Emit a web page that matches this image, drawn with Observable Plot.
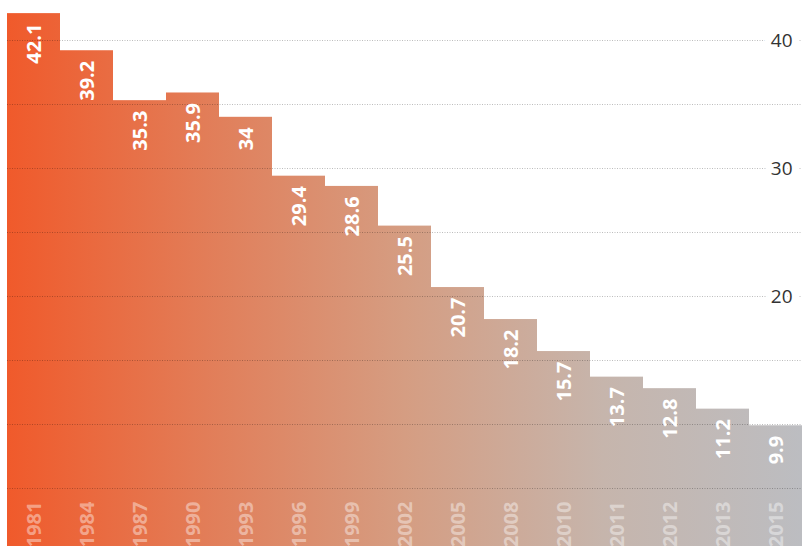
<!DOCTYPE html>
<html>
<head>
<meta charset="utf-8">
<script src="https://cdn.jsdelivr.net/npm/d3@7"></script>
<script src="https://cdn.jsdelivr.net/npm/@observablehq/plot@0.6"></script>
<style>
  html, body { margin: 0; padding: 0; background: #fff; }
  svg { display: block; }
</style>
</head>
<body>
<div id="chart"></div>
<script>
const years = ["1981","1984","1987","1990","1993","1996","1999","2002","2005","2008","2010","2011","2012","2013","2015"];
const values = [42.1, 39.2, 35.3, 35.9, 34, 29.4, 28.6, 25.5, 20.7, 18.2, 15.7, 13.7, 12.8, 11.2, 9.9];
const gridValues = [5, 10, 15, 20, 25, 30, 35, 40, 45];
const tickLabels = [20, 30, 40];
const gradientStops = [
  [0, "#f05a2b"], [0.25, "#e27d58"], [0.5, "#d59d82"], [0.75, "#c6b5ac"], [1, "#bcbdc1"]
];

const data = years.map((year, i) => ({year, value: values[i]}));

const W = 802, H = 546, mL = 7, mR = 0;

function gradientDefs() {
  const defs = d3.create("svg:defs");
  const g = defs.append("linearGradient")
    .attr("id", "barGrad")
    .attr("gradientUnits", "userSpaceOnUse")
    .attr("x1", mL).attr("x2", W - mR).attr("y1", 0).attr("y2", 0);
  for (const [o, c] of gradientStops) g.append("stop").attr("offset", o).attr("stop-color", c);
  return defs.node();
}

const font = "'Open Sans', 'DejaVu Sans', sans-serif";

const chart = Plot.plot({
  width: W,
  height: H,
  marginLeft: mL,
  marginRight: mR,
  marginTop: 0,
  marginBottom: 0,
  style: {fontFamily: font, background: "#fff", overflow: "hidden"},
  x: {type: "band", domain: years, padding: 0, axis: null},
  y: {domain: [0, 43.125], range: [552, 0], axis: null},
  marks: [
    gradientDefs,
    Plot.barY(data, {x: "year", y: "value", fill: "url(#barGrad)", inset: 0}),
    Plot.ruleY(gridValues, {stroke: "#000", strokeOpacity: 0.26, strokeDasharray: "1,1.5", strokeWidth: 1}),
    Plot.text(tickLabels, {
      y: d => d, text: d => String(d), frameAnchor: "right", dx: -10, textAnchor: "end",
      fill: "#333", stroke: "#fff", strokeWidth: 14, fontSize: 19, fontFamily: font
    }),
    Plot.text(data, {
      x: "year", y: "value", text: d => String(d.value), rotate: -90, textAnchor: "end",
      lineAnchor: "middle", dy: 10, dx: 1, fill: "#fff", fontWeight: "bold", fontSize: 20, fontFamily: font
    }),
    Plot.text(data, {
      x: "year", text: "year", frameAnchor: "bottom", rotate: -90, textAnchor: "end",
      lineAnchor: "middle", dy: -45, dx: 1, fill: "#fff", fillOpacity: 0.42, fontWeight: "bold", fontSize: 20, fontFamily: font
    })
  ]
});

document.getElementById("chart").appendChild(chart);
</script>
</body>
</html>
